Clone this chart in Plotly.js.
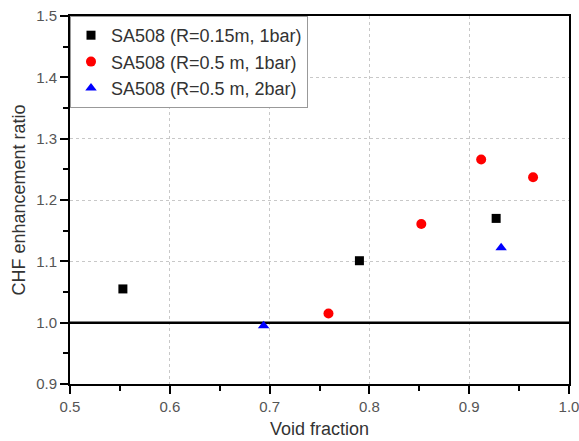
<!DOCTYPE html>
<html><head><meta charset="utf-8">
<script src="https://cdn.plot.ly/plotly-3.0.1.min.js"></script>
<style>body{margin:0;background:#fff}#c{width:579px;height:441px}</style>
</head><body><div id="c"></div>
<script>
const sqX = [0.553, 0.790, 0.927];
const sqY = [1.055, 1.101, 1.170];
const ciX = [0.759, 0.852, 0.912, 0.964];
const ciY = [1.015, 1.161, 1.266, 1.237];
const trX = [0.694, 0.932];
const trY = [0.995, 1.122];
const refX = [0.5, 1.0];
const refY = [1.0, 1.0];
const names = ['SA508 (R=0.15m, 1bar)', 'SA508 (R=0.5 m, 1bar)', 'SA508 (R=0.5 m, 2bar)'];
const FF = 'Liberation Sans';

const traces = [
  {x: refX, y: refY, mode: 'lines', type: 'scatter', showlegend: false, hoverinfo: 'skip', line: {color: '#000', width: 2.5}},
  {x: sqX, y: sqY, mode: 'markers', type: 'scatter', name: names[0], marker: {symbol: 'square', size: 9, color: '#000'}},
  {x: ciX, y: ciY, mode: 'markers', type: 'scatter', name: names[1], marker: {symbol: 'circle', size: 10, color: '#f00'}},
  {x: trX, y: trY, mode: 'markers', type: 'scatter', name: names[2], marker: {symbol: 'triangle-up', size: 10, color: '#00f'}}
];
const axisCommon = {
  dtick: 0.1, tickformat: '.1f', ticks: 'outside', ticklen: 8, tickwidth: 2, tickcolor: '#000',
  showline: true, linewidth: 2, linecolor: '#000', mirror: true, zeroline: false,
  showgrid: true, gridcolor: '#c8c8c8', griddash: 'dot', gridwidth: 1,
  minor: {dtick: 0.05, ticks: 'outside', ticklen: 5, tickwidth: 2, tickcolor: '#000', showgrid: false},
  ticklabeloverflow: 'allow',
  tickfont: {family: FF, size: 15, color: '#555'}
};
const layout = {
  width: 579, height: 441,
  margin: {l: 70, r: 10, t: 16, b: 57},
  showlegend: true,
  legend: {x: 0, y: 1, xanchor: 'left', yanchor: 'top', bordercolor: '#999', borderwidth: 1, bgcolor: '#fff',
           font: {family: FF, size: 18, color: '#333'}, itemwidth: 30, tracegroupgap: 0},
  xaxis: Object.assign({}, axisCommon, {range: [0.5, 1.0], tick0: 0.5,
          title: {text: 'Void fraction', font: {family: FF, size: 18, color: '#333'}, standoff: 8}}),
  yaxis: Object.assign({}, axisCommon, {range: [0.9, 1.5], tick0: 0.9,
          title: {text: 'CHF enhancement ratio', font: {family: FF, size: 18, color: '#333'}, standoff: 6}})
};
Plotly.newPlot('c', traces, layout, {displayModeBar: false});
</script></body></html>
